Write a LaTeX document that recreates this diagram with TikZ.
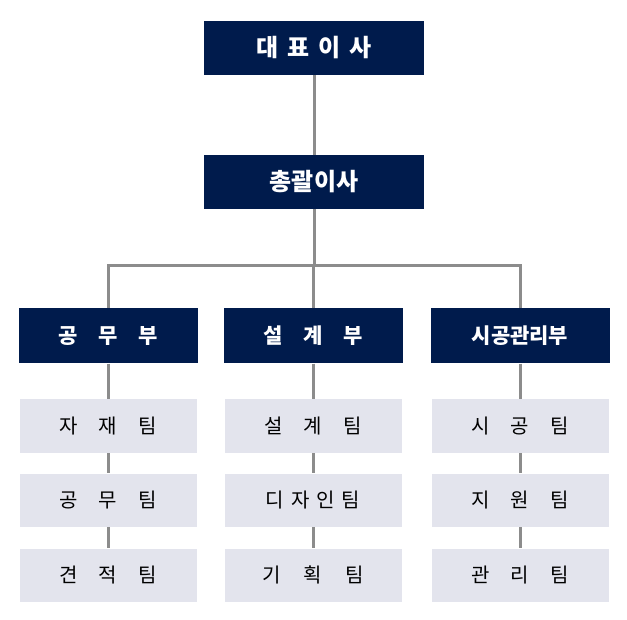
\documentclass[tikz,border=0pt]{standalone}
\usepackage{fontspec}
\setmainfont{Noto Sans CJK KR}
\usetikzlibrary{positioning,backgrounds}
\definecolor{navy}{RGB}{0,27,76}
\definecolor{pale}{RGB}{227,228,237}
\definecolor{linegray}{RGB}{140,140,140}
\newcommand\gp[1]{\hspace{#1}}

\begin{document}
\begin{tikzpicture}
    [x=1pt,y=-1pt,
    head/.style={fill=navy,text=white,font=\bfseries\fontsize{24}{28}\selectfont,
        minimum width=220pt,minimum height=54pt,inner sep=0pt},
    dept/.style={fill=navy,text=white,font=\bfseries\fontsize{21}{25}\selectfont,
        minimum width=179pt,minimum height=55pt,inner sep=0pt},
    team/.style={fill=pale,text=black,font=\fontsize{20}{24}\selectfont,
        minimum width=177pt,minimum height=53pt,inner sep=0pt},
    link/.style={linegray,line width=3pt}]

    \useasboundingbox (0,0) rectangle (627,620);

    \node[head] (ceo) at (314,48) {대\gp{9pt}표\gp{9pt}이\gp{9pt}사};
    \node[head] (gm) at (314,182) {총괄이사};
    \coordinate (bus) at (314,266);

    \node[dept] (d1) at (108,336) {공\gp{21pt}무\gp{21pt}부};
    \node[dept] (d2) at (313,336) {설\gp{21pt}계\gp{21pt}부};
    \node[dept] (d3) at (520,336) {시공관리부};

    % teams
    \node[team] (t11) at (108,426) {자\gp{21pt}재\gp{21pt}팀};
    \node[team] (t12) at (108,500) {공\gp{21pt}무\gp{21pt}팀};
    \node[team] (t13) at (108,575) {견\gp{21pt}적\gp{21pt}팀};
    \node[team] (t21) at (313,426) {설\gp{21pt}계\gp{21pt}팀};
    \node[team] (t22) at (313,500) {디\gp{7pt}자\gp{7pt}인\gp{7pt}팀};
    \node[team] (t23) at (313,575) {기\gp{23pt}획\gp{23pt}팀};
    \node[team] (t31) at (520,426) {시\gp{21pt}공\gp{21pt}팀};
    \node[team] (t32) at (520,500) {지\gp{21pt}원\gp{21pt}팀};
    \node[team] (t33) at (520,575) {관\gp{21pt}리\gp{21pt}팀};

    \begin{scope}[on background layer]
        \draw[link] (ceo) -- (gm) -- (bus);
        \foreach \c in {1,2,3}
        {
            \draw[link] (d\c) |- (bus);
            \draw[link] (d\c) -- (t\c1) -- (t\c2) -- (t\c3);
        }
    \end{scope}
\end{tikzpicture}
\end{document}
